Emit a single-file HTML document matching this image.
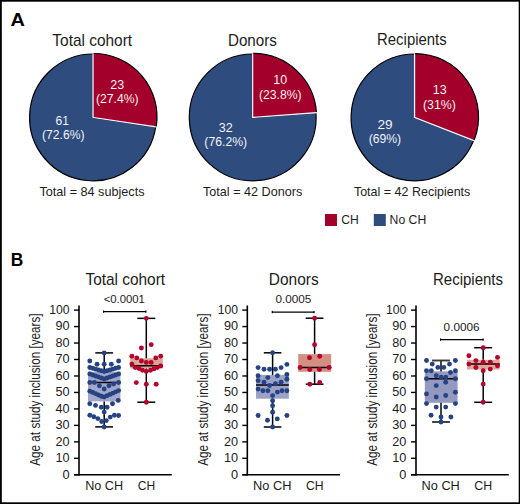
<!DOCTYPE html>
<html><head><meta charset="utf-8"><style>
html,body{margin:0;padding:0;background:#fff;}
svg{display:block;}
text{font-family:"Liberation Sans",sans-serif;}
</style></head><body>
<svg width="520" height="504" viewBox="0 0 520 504">
<rect x="0" y="0" width="520" height="504" fill="#fff"/>
<path d="M93,117.4 L155.69,126.85 A63.4,63.4 0 1 1 93,54.00000000000001 Z" fill="#2E4C7E"/>
<path d="M155.69,126.85 A63.4,63.4 0 1 1 93,54.00000000000001" fill="none" stroke="#000" stroke-width="1.2"/>
<path d="M93,53.400000000000006 L93,117.4 L156.29,126.94" fill="none" stroke="#fff" stroke-width="1.1"/>
<g transform="translate(0.61,-0.52)">
<path d="M93,117.4 L93,54.00000000000001 A63.4,63.4 0 0 1 155.69,126.85 Z" fill="#A3002B"/>
<path d="M93,54.00000000000001 A63.4,63.4 0 0 1 155.69,126.85" fill="none" stroke="#000" stroke-width="1.2"/>
</g>
<path d="M252.7,117.4 L315.92,112.66 A63.4,63.4 0 1 1 252.7,54.00000000000001 Z" fill="#2E4C7E"/>
<path d="M315.92,112.66 A63.4,63.4 0 1 1 252.7,54.00000000000001" fill="none" stroke="#000" stroke-width="1.2"/>
<path d="M252.7,53.400000000000006 L252.7,117.4 L316.52,112.62" fill="none" stroke="#fff" stroke-width="1.1"/>
<g transform="translate(0.54,-0.59)">
<path d="M252.7,117.4 L252.7,54.00000000000001 A63.4,63.4 0 0 1 315.92,112.66 Z" fill="#A3002B"/>
<path d="M252.7,54.00000000000001 A63.4,63.4 0 0 1 315.92,112.66" fill="none" stroke="#000" stroke-width="1.2"/>
</g>
<path d="M414.5,117.4 L473.52,140.56 A63.4,63.4 0 1 1 414.5,54.00000000000001 Z" fill="#2E4C7E"/>
<path d="M473.52,140.56 A63.4,63.4 0 1 1 414.5,54.00000000000001" fill="none" stroke="#000" stroke-width="1.2"/>
<path d="M414.5,53.400000000000006 L414.5,117.4 L474.08,140.78" fill="none" stroke="#fff" stroke-width="1.1"/>
<g transform="translate(0.66,-0.45)">
<path d="M414.5,117.4 L414.5,54.00000000000001 A63.4,63.4 0 0 1 473.52,140.56 Z" fill="#A3002B"/>
<path d="M414.5,54.00000000000001 A63.4,63.4 0 0 1 473.52,140.56" fill="none" stroke="#000" stroke-width="1.2"/>
</g>
<text x="10.50" y="26.00" font-size="19" font-weight="bold" fill="#000" textLength="14.42" lengthAdjust="spacingAndGlyphs">A</text>
<text x="10.74" y="265.80" font-size="19" font-weight="bold" fill="#000" textLength="12.55" lengthAdjust="spacingAndGlyphs">B</text>
<text x="52.36" y="46.20" font-size="15.7" font-weight="normal" fill="#1c1c1c" textLength="79.75" lengthAdjust="spacingAndGlyphs">Total cohort</text>
<text x="227.96" y="45.90" font-size="15.7" font-weight="normal" fill="#1c1c1c" textLength="48.89" lengthAdjust="spacingAndGlyphs">Donors</text>
<text x="377.08" y="45.40" font-size="15.7" font-weight="normal" fill="#1c1c1c" textLength="69.56" lengthAdjust="spacingAndGlyphs">Recipients</text>
<text x="110.27" y="89.10" font-size="12.3" font-weight="normal" fill="#fff" textLength="13.88" lengthAdjust="spacingAndGlyphs" stroke="#A3002B" stroke-width="0.08">23</text>
<text x="95.95" y="103.40" font-size="12.3" font-weight="normal" fill="#fff" textLength="42.61" lengthAdjust="spacingAndGlyphs" stroke="#A3002B" stroke-width="0.08">(27.4%)</text>
<text x="55.59" y="125.20" font-size="12.3" font-weight="normal" fill="#fff" textLength="13.40" lengthAdjust="spacingAndGlyphs" stroke="#2E4C7E" stroke-width="0.08">61</text>
<text x="42.05" y="139.30" font-size="12.3" font-weight="normal" fill="#fff" textLength="42.51" lengthAdjust="spacingAndGlyphs" stroke="#2E4C7E" stroke-width="0.08">(72.6%)</text>
<text x="273.25" y="83.90" font-size="12.3" font-weight="normal" fill="#fff" textLength="13.83" lengthAdjust="spacingAndGlyphs" stroke="#A3002B" stroke-width="0.08">10</text>
<text x="258.94" y="98.70" font-size="12.3" font-weight="normal" fill="#fff" textLength="42.71" lengthAdjust="spacingAndGlyphs" stroke="#A3002B" stroke-width="0.08">(23.8%)</text>
<text x="218.72" y="131.50" font-size="12.3" font-weight="normal" fill="#fff" textLength="13.90" lengthAdjust="spacingAndGlyphs" stroke="#2E4C7E" stroke-width="0.08">32</text>
<text x="204.34" y="146.00" font-size="12.3" font-weight="normal" fill="#fff" textLength="42.82" lengthAdjust="spacingAndGlyphs" stroke="#2E4C7E" stroke-width="0.08">(76.2%)</text>
<text x="432.85" y="94.20" font-size="12.3" font-weight="normal" fill="#fff" textLength="13.90" lengthAdjust="spacingAndGlyphs" stroke="#A3002B" stroke-width="0.08">13</text>
<text x="422.93" y="108.60" font-size="12.3" font-weight="normal" fill="#fff" textLength="32.93" lengthAdjust="spacingAndGlyphs" stroke="#A3002B" stroke-width="0.08">(31%)</text>
<text x="377.52" y="128.80" font-size="12.3" font-weight="normal" fill="#fff" textLength="15.13" lengthAdjust="spacingAndGlyphs" stroke="#2E4C7E" stroke-width="0.08">29</text>
<text x="368.64" y="143.00" font-size="12.3" font-weight="normal" fill="#fff" textLength="32.51" lengthAdjust="spacingAndGlyphs" stroke="#2E4C7E" stroke-width="0.08">(69%)</text>
<text x="39.42" y="196.10" font-size="12.8" font-weight="normal" fill="#1c1c1c" textLength="105.13" lengthAdjust="spacingAndGlyphs">Total = 84 subjects</text>
<text x="203.02" y="196.10" font-size="12.8" font-weight="normal" fill="#1c1c1c" textLength="99.23" lengthAdjust="spacingAndGlyphs">Total = 42 Donors</text>
<text x="353.92" y="196.10" font-size="12.8" font-weight="normal" fill="#1c1c1c" textLength="116.42" lengthAdjust="spacingAndGlyphs">Total = 42 Recipients</text>
<rect x="325" y="214" width="12" height="12" fill="#A3002B"/>
<text x="341.28" y="223.80" font-size="12.6" font-weight="normal" fill="#1c1c1c" textLength="17.50" lengthAdjust="spacingAndGlyphs">CH</text>
<rect x="373.8" y="214" width="12" height="12" fill="#2E4C7E"/>
<text x="389.60" y="223.80" font-size="12.6" font-weight="normal" fill="#1c1c1c" textLength="36.60" lengthAdjust="spacingAndGlyphs">No CH</text>
<line x1="79" y1="305.5" x2="79" y2="475.6" stroke="#000" stroke-width="1.6"/>
<line x1="74" y1="474.8" x2="171.8" y2="474.8" stroke="#000" stroke-width="1.6"/>
<line x1="74" y1="474.80" x2="79" y2="474.80" stroke="#000" stroke-width="1.4"/>
<text x="62.48" y="478.50" font-size="12.6" font-weight="normal" fill="#1c1c1c" textLength="7.12" lengthAdjust="spacingAndGlyphs">0</text>
<line x1="74" y1="458.33" x2="79" y2="458.33" stroke="#000" stroke-width="1.4"/>
<text x="55.47" y="462.03" font-size="12.6" font-weight="normal" fill="#1c1c1c" textLength="14.13" lengthAdjust="spacingAndGlyphs">10</text>
<line x1="74" y1="441.86" x2="79" y2="441.86" stroke="#000" stroke-width="1.4"/>
<text x="55.47" y="445.56" font-size="12.6" font-weight="normal" fill="#1c1c1c" textLength="14.12" lengthAdjust="spacingAndGlyphs">20</text>
<line x1="74" y1="425.39" x2="79" y2="425.39" stroke="#000" stroke-width="1.4"/>
<text x="55.47" y="429.09" font-size="12.6" font-weight="normal" fill="#1c1c1c" textLength="14.12" lengthAdjust="spacingAndGlyphs">30</text>
<line x1="74" y1="408.92" x2="79" y2="408.92" stroke="#000" stroke-width="1.4"/>
<text x="55.47" y="412.62" font-size="12.6" font-weight="normal" fill="#1c1c1c" textLength="14.12" lengthAdjust="spacingAndGlyphs">40</text>
<line x1="74" y1="392.45" x2="79" y2="392.45" stroke="#000" stroke-width="1.4"/>
<text x="55.47" y="396.15" font-size="12.6" font-weight="normal" fill="#1c1c1c" textLength="14.12" lengthAdjust="spacingAndGlyphs">50</text>
<line x1="74" y1="375.98" x2="79" y2="375.98" stroke="#000" stroke-width="1.4"/>
<text x="55.47" y="379.68" font-size="12.6" font-weight="normal" fill="#1c1c1c" textLength="14.12" lengthAdjust="spacingAndGlyphs">60</text>
<line x1="74" y1="359.51" x2="79" y2="359.51" stroke="#000" stroke-width="1.4"/>
<text x="55.47" y="363.21" font-size="12.6" font-weight="normal" fill="#1c1c1c" textLength="14.12" lengthAdjust="spacingAndGlyphs">70</text>
<line x1="74" y1="343.04" x2="79" y2="343.04" stroke="#000" stroke-width="1.4"/>
<text x="55.47" y="346.74" font-size="12.6" font-weight="normal" fill="#1c1c1c" textLength="14.12" lengthAdjust="spacingAndGlyphs">80</text>
<line x1="74" y1="326.57" x2="79" y2="326.57" stroke="#000" stroke-width="1.4"/>
<text x="55.47" y="330.27" font-size="12.6" font-weight="normal" fill="#1c1c1c" textLength="14.12" lengthAdjust="spacingAndGlyphs">90</text>
<line x1="74" y1="310.10" x2="79" y2="310.10" stroke="#000" stroke-width="1.4"/>
<text x="49.29" y="313.80" font-size="12.6" font-weight="normal" fill="#1c1c1c" textLength="20.29" lengthAdjust="spacingAndGlyphs">100</text>
<text transform="translate(40.30,465.70) rotate(-90)" x="-0.02" y="0" font-size="15.2" fill="#1c1c1c" textLength="152.26" lengthAdjust="spacingAndGlyphs">Age at study inclusion [years]</text>
<rect x="88.0" y="371.7" width="32.400000000000006" height="29.69999999999999" fill="#A3A7CB"/>
<line x1="104.2" y1="352.9" x2="104.2" y2="371.7" stroke="#000" stroke-width="1.5"/>
<line x1="104.2" y1="401.4" x2="104.2" y2="426.9" stroke="#000" stroke-width="1.5"/>
<line x1="95.3" y1="352.9" x2="113.10000000000001" y2="352.9" stroke="#000" stroke-width="1.5"/>
<line x1="95.3" y1="426.9" x2="113.10000000000001" y2="426.9" stroke="#000" stroke-width="1.5"/>
<line x1="88.0" y1="382.5" x2="120.4" y2="382.5" stroke="#000" stroke-width="1.5"/>
<circle cx="104.20" cy="352.90" r="2.45" fill="#254383"/>
<circle cx="89.80" cy="361.00" r="2.45" fill="#254383"/>
<circle cx="118.60" cy="361.00" r="2.45" fill="#254383"/>
<circle cx="97.10" cy="364.20" r="2.45" fill="#254383"/>
<circle cx="104.20" cy="364.20" r="2.45" fill="#254383"/>
<circle cx="111.30" cy="364.20" r="2.45" fill="#254383"/>
<circle cx="89.80" cy="367.50" r="2.45" fill="#254383"/>
<circle cx="92.68" cy="368.32" r="2.45" fill="#254383"/>
<circle cx="95.56" cy="369.14" r="2.45" fill="#254383"/>
<circle cx="98.44" cy="369.96" r="2.45" fill="#254383"/>
<circle cx="101.32" cy="370.78" r="2.45" fill="#254383"/>
<circle cx="104.20" cy="371.60" r="2.45" fill="#254383"/>
<circle cx="107.08" cy="370.78" r="2.45" fill="#254383"/>
<circle cx="109.96" cy="369.96" r="2.45" fill="#254383"/>
<circle cx="112.84" cy="369.14" r="2.45" fill="#254383"/>
<circle cx="115.72" cy="368.32" r="2.45" fill="#254383"/>
<circle cx="118.60" cy="367.50" r="2.45" fill="#254383"/>
<circle cx="89.80" cy="374.00" r="2.45" fill="#254383"/>
<circle cx="92.68" cy="375.00" r="2.45" fill="#254383"/>
<circle cx="95.56" cy="376.00" r="2.45" fill="#254383"/>
<circle cx="98.44" cy="377.00" r="2.45" fill="#254383"/>
<circle cx="101.32" cy="378.00" r="2.45" fill="#254383"/>
<circle cx="104.20" cy="379.00" r="2.45" fill="#254383"/>
<circle cx="107.08" cy="378.00" r="2.45" fill="#254383"/>
<circle cx="109.96" cy="377.00" r="2.45" fill="#254383"/>
<circle cx="112.84" cy="376.00" r="2.45" fill="#254383"/>
<circle cx="115.72" cy="375.00" r="2.45" fill="#254383"/>
<circle cx="118.60" cy="374.00" r="2.45" fill="#254383"/>
<circle cx="89.80" cy="382.50" r="2.45" fill="#254383"/>
<circle cx="94.40" cy="382.50" r="2.45" fill="#254383"/>
<circle cx="118.60" cy="382.50" r="2.45" fill="#254383"/>
<circle cx="113.60" cy="384.00" r="2.45" fill="#254383"/>
<circle cx="99.40" cy="385.80" r="2.45" fill="#254383"/>
<circle cx="109.00" cy="385.80" r="2.45" fill="#254383"/>
<circle cx="104.20" cy="389.00" r="2.45" fill="#254383"/>
<circle cx="89.80" cy="391.13" r="2.45" fill="#254383"/>
<circle cx="92.68" cy="392.40" r="2.45" fill="#254383"/>
<circle cx="95.56" cy="393.66" r="2.45" fill="#254383"/>
<circle cx="98.44" cy="394.93" r="2.45" fill="#254383"/>
<circle cx="101.32" cy="396.20" r="2.45" fill="#254383"/>
<circle cx="104.20" cy="396.94" r="2.45" fill="#254383"/>
<circle cx="107.08" cy="395.67" r="2.45" fill="#254383"/>
<circle cx="109.96" cy="394.40" r="2.45" fill="#254383"/>
<circle cx="112.84" cy="393.13" r="2.45" fill="#254383"/>
<circle cx="115.72" cy="391.87" r="2.45" fill="#254383"/>
<circle cx="118.60" cy="390.60" r="2.45" fill="#254383"/>
<circle cx="118.20" cy="400.40" r="2.45" fill="#254383"/>
<circle cx="89.80" cy="403.80" r="2.45" fill="#254383"/>
<circle cx="112.50" cy="403.80" r="2.45" fill="#254383"/>
<circle cx="95.50" cy="405.40" r="2.45" fill="#254383"/>
<circle cx="101.30" cy="407.30" r="2.45" fill="#254383"/>
<circle cx="107.10" cy="407.30" r="2.45" fill="#254383"/>
<circle cx="104.20" cy="412.10" r="2.45" fill="#254383"/>
<circle cx="89.80" cy="415.30" r="2.45" fill="#254383"/>
<circle cx="93.80" cy="416.80" r="2.45" fill="#254383"/>
<circle cx="97.80" cy="418.60" r="2.45" fill="#254383"/>
<circle cx="101.70" cy="421.50" r="2.45" fill="#254383"/>
<circle cx="106.30" cy="420.60" r="2.45" fill="#254383"/>
<circle cx="110.20" cy="417.10" r="2.45" fill="#254383"/>
<circle cx="114.40" cy="415.20" r="2.45" fill="#254383"/>
<circle cx="118.60" cy="415.50" r="2.45" fill="#254383"/>
<circle cx="104.20" cy="427.00" r="2.45" fill="#254383"/>
<rect x="130.2" y="358.3" width="32.60000000000002" height="10.199999999999989" fill="#DBA596"/>
<line x1="146.3" y1="318.35" x2="146.3" y2="358.3" stroke="#000" stroke-width="1.5"/>
<line x1="146.3" y1="368.5" x2="146.3" y2="402.2" stroke="#000" stroke-width="1.5"/>
<line x1="137.3" y1="318.35" x2="155.3" y2="318.35" stroke="#000" stroke-width="1.5"/>
<line x1="137.3" y1="402.2" x2="155.3" y2="402.2" stroke="#000" stroke-width="1.5"/>
<line x1="130.2" y1="365.8" x2="162.8" y2="365.8" stroke="#000" stroke-width="1.5"/>
<circle cx="146.30" cy="318.35" r="2.45" fill="#B5002C"/>
<circle cx="151.20" cy="344.65" r="2.45" fill="#B5002C"/>
<circle cx="141.40" cy="348.00" r="2.45" fill="#B5002C"/>
<circle cx="131.90" cy="356.20" r="2.45" fill="#B5002C"/>
<circle cx="160.70" cy="356.20" r="2.45" fill="#B5002C"/>
<circle cx="136.80" cy="357.90" r="2.45" fill="#B5002C"/>
<circle cx="155.80" cy="357.90" r="2.45" fill="#B5002C"/>
<circle cx="141.40" cy="361.00" r="2.45" fill="#B5002C"/>
<circle cx="146.30" cy="362.40" r="2.45" fill="#B5002C"/>
<circle cx="151.20" cy="362.40" r="2.45" fill="#B5002C"/>
<circle cx="131.90" cy="364.10" r="2.45" fill="#B5002C"/>
<circle cx="160.70" cy="365.90" r="2.45" fill="#B5002C"/>
<circle cx="135.30" cy="367.60" r="2.45" fill="#B5002C"/>
<circle cx="139.10" cy="368.50" r="2.45" fill="#B5002C"/>
<circle cx="142.50" cy="370.20" r="2.45" fill="#B5002C"/>
<circle cx="146.30" cy="371.40" r="2.45" fill="#B5002C"/>
<circle cx="150.50" cy="370.20" r="2.45" fill="#B5002C"/>
<circle cx="153.90" cy="368.90" r="2.45" fill="#B5002C"/>
<circle cx="157.30" cy="367.60" r="2.45" fill="#B5002C"/>
<circle cx="136.30" cy="382.60" r="2.45" fill="#B5002C"/>
<circle cx="146.30" cy="384.30" r="2.45" fill="#B5002C"/>
<circle cx="156.20" cy="384.30" r="2.45" fill="#B5002C"/>
<circle cx="146.30" cy="402.20" r="2.45" fill="#B5002C"/>
<line x1="103.1" y1="311.6" x2="146.3" y2="311.6" stroke="#000" stroke-width="1.4"/>
<line x1="103.6" y1="310.40000000000003" x2="103.6" y2="312.8" stroke="#000" stroke-width="1"/>
<line x1="145.8" y1="310.40000000000003" x2="145.8" y2="312.8" stroke="#000" stroke-width="1"/>
<text x="85.46" y="284.90" font-size="15.7" font-weight="normal" fill="#1c1c1c" textLength="79.65" lengthAdjust="spacingAndGlyphs">Total cohort</text>
<text x="103.64" y="302.80" font-size="11.4" font-weight="normal" fill="#1c1c1c" textLength="41.31" lengthAdjust="spacingAndGlyphs">&lt;0.0001</text>
<text x="85.16" y="490.00" font-size="12.2" font-weight="normal" fill="#1c1c1c" textLength="37.86" lengthAdjust="spacingAndGlyphs">No CH</text>
<text x="137.69" y="490.00" font-size="12.2" font-weight="normal" fill="#1c1c1c" textLength="17.39" lengthAdjust="spacingAndGlyphs">CH</text>
<line x1="247.3" y1="305.5" x2="247.3" y2="475.6" stroke="#000" stroke-width="1.6"/>
<line x1="242.3" y1="474.8" x2="340.1" y2="474.8" stroke="#000" stroke-width="1.6"/>
<line x1="242.3" y1="474.80" x2="247.3" y2="474.80" stroke="#000" stroke-width="1.4"/>
<text x="230.98" y="478.50" font-size="12.6" font-weight="normal" fill="#1c1c1c" textLength="7.12" lengthAdjust="spacingAndGlyphs">0</text>
<line x1="242.3" y1="458.33" x2="247.3" y2="458.33" stroke="#000" stroke-width="1.4"/>
<text x="223.97" y="462.03" font-size="12.6" font-weight="normal" fill="#1c1c1c" textLength="14.13" lengthAdjust="spacingAndGlyphs">10</text>
<line x1="242.3" y1="441.86" x2="247.3" y2="441.86" stroke="#000" stroke-width="1.4"/>
<text x="223.97" y="445.56" font-size="12.6" font-weight="normal" fill="#1c1c1c" textLength="14.12" lengthAdjust="spacingAndGlyphs">20</text>
<line x1="242.3" y1="425.39" x2="247.3" y2="425.39" stroke="#000" stroke-width="1.4"/>
<text x="223.97" y="429.09" font-size="12.6" font-weight="normal" fill="#1c1c1c" textLength="14.12" lengthAdjust="spacingAndGlyphs">30</text>
<line x1="242.3" y1="408.92" x2="247.3" y2="408.92" stroke="#000" stroke-width="1.4"/>
<text x="223.97" y="412.62" font-size="12.6" font-weight="normal" fill="#1c1c1c" textLength="14.12" lengthAdjust="spacingAndGlyphs">40</text>
<line x1="242.3" y1="392.45" x2="247.3" y2="392.45" stroke="#000" stroke-width="1.4"/>
<text x="223.97" y="396.15" font-size="12.6" font-weight="normal" fill="#1c1c1c" textLength="14.12" lengthAdjust="spacingAndGlyphs">50</text>
<line x1="242.3" y1="375.98" x2="247.3" y2="375.98" stroke="#000" stroke-width="1.4"/>
<text x="223.97" y="379.68" font-size="12.6" font-weight="normal" fill="#1c1c1c" textLength="14.12" lengthAdjust="spacingAndGlyphs">60</text>
<line x1="242.3" y1="359.51" x2="247.3" y2="359.51" stroke="#000" stroke-width="1.4"/>
<text x="223.97" y="363.21" font-size="12.6" font-weight="normal" fill="#1c1c1c" textLength="14.12" lengthAdjust="spacingAndGlyphs">70</text>
<line x1="242.3" y1="343.04" x2="247.3" y2="343.04" stroke="#000" stroke-width="1.4"/>
<text x="223.97" y="346.74" font-size="12.6" font-weight="normal" fill="#1c1c1c" textLength="14.12" lengthAdjust="spacingAndGlyphs">80</text>
<line x1="242.3" y1="326.57" x2="247.3" y2="326.57" stroke="#000" stroke-width="1.4"/>
<text x="223.97" y="330.27" font-size="12.6" font-weight="normal" fill="#1c1c1c" textLength="14.12" lengthAdjust="spacingAndGlyphs">90</text>
<line x1="242.3" y1="310.10" x2="247.3" y2="310.10" stroke="#000" stroke-width="1.4"/>
<text x="217.79" y="313.80" font-size="12.6" font-weight="normal" fill="#1c1c1c" textLength="20.29" lengthAdjust="spacingAndGlyphs">100</text>
<text transform="translate(208.10,465.70) rotate(-90)" x="-0.02" y="0" font-size="15.2" fill="#1c1c1c" textLength="152.26" lengthAdjust="spacingAndGlyphs">Age at study inclusion [years]</text>
<rect x="256" y="374.9" width="32.80000000000001" height="23.80000000000001" fill="#9CA1C8"/>
<line x1="272.6" y1="352.8" x2="272.6" y2="374.9" stroke="#000" stroke-width="1.5"/>
<line x1="272.6" y1="398.7" x2="272.6" y2="427" stroke="#000" stroke-width="1.5"/>
<line x1="263.8" y1="352.8" x2="281.40000000000003" y2="352.8" stroke="#000" stroke-width="1.5"/>
<line x1="263.8" y1="427" x2="281.40000000000003" y2="427" stroke="#000" stroke-width="1.5"/>
<line x1="256" y1="385.1" x2="288.8" y2="385.1" stroke="#000" stroke-width="1.5"/>
<circle cx="272.60" cy="352.80" r="2.45" fill="#254383"/>
<circle cx="286.90" cy="364.40" r="2.45" fill="#254383"/>
<circle cx="258.10" cy="367.60" r="2.45" fill="#254383"/>
<circle cx="264.00" cy="369.20" r="2.45" fill="#254383"/>
<circle cx="269.60" cy="369.20" r="2.45" fill="#254383"/>
<circle cx="275.40" cy="369.20" r="2.45" fill="#254383"/>
<circle cx="281.10" cy="367.60" r="2.45" fill="#254383"/>
<circle cx="258.10" cy="375.80" r="2.45" fill="#254383"/>
<circle cx="267.80" cy="377.60" r="2.45" fill="#254383"/>
<circle cx="277.40" cy="375.80" r="2.45" fill="#254383"/>
<circle cx="286.90" cy="374.50" r="2.45" fill="#254383"/>
<circle cx="286.90" cy="379.20" r="2.45" fill="#254383"/>
<circle cx="258.10" cy="380.60" r="2.45" fill="#254383"/>
<circle cx="264.00" cy="382.30" r="2.45" fill="#254383"/>
<circle cx="281.10" cy="382.30" r="2.45" fill="#254383"/>
<circle cx="275.40" cy="383.80" r="2.45" fill="#254383"/>
<circle cx="269.60" cy="385.50" r="2.45" fill="#254383"/>
<circle cx="258.10" cy="389.10" r="2.45" fill="#254383"/>
<circle cx="262.90" cy="390.80" r="2.45" fill="#254383"/>
<circle cx="267.80" cy="390.80" r="2.45" fill="#254383"/>
<circle cx="277.40" cy="392.10" r="2.45" fill="#254383"/>
<circle cx="282.00" cy="390.80" r="2.45" fill="#254383"/>
<circle cx="286.90" cy="390.80" r="2.45" fill="#254383"/>
<circle cx="272.60" cy="395.60" r="2.45" fill="#254383"/>
<circle cx="272.60" cy="400.70" r="2.45" fill="#254383"/>
<circle cx="272.60" cy="405.70" r="2.45" fill="#254383"/>
<circle cx="272.60" cy="412.30" r="2.45" fill="#254383"/>
<circle cx="258.10" cy="415.50" r="2.45" fill="#254383"/>
<circle cx="286.90" cy="415.50" r="2.45" fill="#254383"/>
<circle cx="267.50" cy="420.30" r="2.45" fill="#254383"/>
<circle cx="277.30" cy="418.90" r="2.45" fill="#254383"/>
<circle cx="272.60" cy="427.00" r="2.45" fill="#254383"/>
<rect x="298.2" y="354.1" width="33.0" height="17.69999999999999" fill="#D28F82"/>
<line x1="314.6" y1="318.2" x2="314.6" y2="354.1" stroke="#000" stroke-width="1.5"/>
<line x1="314.6" y1="371.8" x2="314.6" y2="384.2" stroke="#000" stroke-width="1.5"/>
<line x1="305.70000000000005" y1="318.2" x2="323.5" y2="318.2" stroke="#000" stroke-width="1.5"/>
<line x1="305.70000000000005" y1="384.2" x2="323.5" y2="384.2" stroke="#000" stroke-width="1.5"/>
<line x1="298.2" y1="367.6" x2="331.2" y2="367.6" stroke="#000" stroke-width="1.5"/>
<circle cx="314.60" cy="318.20" r="2.45" fill="#B5002C"/>
<circle cx="314.60" cy="344.70" r="2.45" fill="#B5002C"/>
<circle cx="309.50" cy="357.80" r="2.45" fill="#B5002C"/>
<circle cx="319.70" cy="356.20" r="2.45" fill="#B5002C"/>
<circle cx="300.10" cy="367.50" r="2.45" fill="#B5002C"/>
<circle cx="309.80" cy="369.50" r="2.45" fill="#B5002C"/>
<circle cx="319.40" cy="369.50" r="2.45" fill="#B5002C"/>
<circle cx="329.10" cy="367.50" r="2.45" fill="#B5002C"/>
<circle cx="309.80" cy="384.20" r="2.45" fill="#B5002C"/>
<circle cx="319.70" cy="382.40" r="2.45" fill="#B5002C"/>
<line x1="271.8" y1="312.1" x2="314.5" y2="312.1" stroke="#000" stroke-width="1.4"/>
<line x1="272.3" y1="310.90000000000003" x2="272.3" y2="313.3" stroke="#000" stroke-width="1"/>
<line x1="314.0" y1="310.90000000000003" x2="314.0" y2="313.3" stroke="#000" stroke-width="1"/>
<text x="268.83" y="284.90" font-size="15.7" font-weight="normal" fill="#1c1c1c" textLength="49.83" lengthAdjust="spacingAndGlyphs">Donors</text>
<text x="275.44" y="303.40" font-size="11.4" font-weight="normal" fill="#1c1c1c" textLength="35.95" lengthAdjust="spacingAndGlyphs">0.0005</text>
<text x="253.00" y="490.00" font-size="12.2" font-weight="normal" fill="#1c1c1c" textLength="38.45" lengthAdjust="spacingAndGlyphs">No CH</text>
<text x="305.98" y="490.00" font-size="12.2" font-weight="normal" fill="#1c1c1c" textLength="17.61" lengthAdjust="spacingAndGlyphs">CH</text>
<line x1="416" y1="305.5" x2="416" y2="475.6" stroke="#000" stroke-width="1.6"/>
<line x1="411" y1="474.8" x2="508.8" y2="474.8" stroke="#000" stroke-width="1.6"/>
<line x1="411" y1="474.80" x2="416" y2="474.80" stroke="#000" stroke-width="1.4"/>
<text x="399.28" y="478.50" font-size="12.6" font-weight="normal" fill="#1c1c1c" textLength="7.12" lengthAdjust="spacingAndGlyphs">0</text>
<line x1="411" y1="458.33" x2="416" y2="458.33" stroke="#000" stroke-width="1.4"/>
<text x="392.27" y="462.03" font-size="12.6" font-weight="normal" fill="#1c1c1c" textLength="14.13" lengthAdjust="spacingAndGlyphs">10</text>
<line x1="411" y1="441.86" x2="416" y2="441.86" stroke="#000" stroke-width="1.4"/>
<text x="392.27" y="445.56" font-size="12.6" font-weight="normal" fill="#1c1c1c" textLength="14.12" lengthAdjust="spacingAndGlyphs">20</text>
<line x1="411" y1="425.39" x2="416" y2="425.39" stroke="#000" stroke-width="1.4"/>
<text x="392.27" y="429.09" font-size="12.6" font-weight="normal" fill="#1c1c1c" textLength="14.12" lengthAdjust="spacingAndGlyphs">30</text>
<line x1="411" y1="408.92" x2="416" y2="408.92" stroke="#000" stroke-width="1.4"/>
<text x="392.27" y="412.62" font-size="12.6" font-weight="normal" fill="#1c1c1c" textLength="14.12" lengthAdjust="spacingAndGlyphs">40</text>
<line x1="411" y1="392.45" x2="416" y2="392.45" stroke="#000" stroke-width="1.4"/>
<text x="392.27" y="396.15" font-size="12.6" font-weight="normal" fill="#1c1c1c" textLength="14.12" lengthAdjust="spacingAndGlyphs">50</text>
<line x1="411" y1="375.98" x2="416" y2="375.98" stroke="#000" stroke-width="1.4"/>
<text x="392.27" y="379.68" font-size="12.6" font-weight="normal" fill="#1c1c1c" textLength="14.12" lengthAdjust="spacingAndGlyphs">60</text>
<line x1="411" y1="359.51" x2="416" y2="359.51" stroke="#000" stroke-width="1.4"/>
<text x="392.27" y="363.21" font-size="12.6" font-weight="normal" fill="#1c1c1c" textLength="14.12" lengthAdjust="spacingAndGlyphs">70</text>
<line x1="411" y1="343.04" x2="416" y2="343.04" stroke="#000" stroke-width="1.4"/>
<text x="392.27" y="346.74" font-size="12.6" font-weight="normal" fill="#1c1c1c" textLength="14.12" lengthAdjust="spacingAndGlyphs">80</text>
<line x1="411" y1="326.57" x2="416" y2="326.57" stroke="#000" stroke-width="1.4"/>
<text x="392.27" y="330.27" font-size="12.6" font-weight="normal" fill="#1c1c1c" textLength="14.12" lengthAdjust="spacingAndGlyphs">90</text>
<line x1="411" y1="310.10" x2="416" y2="310.10" stroke="#000" stroke-width="1.4"/>
<text x="386.09" y="313.80" font-size="12.6" font-weight="normal" fill="#1c1c1c" textLength="20.29" lengthAdjust="spacingAndGlyphs">100</text>
<text transform="translate(376.90,465.70) rotate(-90)" x="-0.02" y="0" font-size="15.2" fill="#1c1c1c" textLength="152.26" lengthAdjust="spacingAndGlyphs">Age at study inclusion [years]</text>
<rect x="424.8" y="371.4" width="32.80000000000001" height="31.400000000000034" fill="#9499C0"/>
<line x1="441.0" y1="360.5" x2="441.0" y2="371.4" stroke="#3a3a3a" stroke-width="1.9"/>
<line x1="441.0" y1="402.8" x2="441.0" y2="422" stroke="#3a3a3a" stroke-width="1.9"/>
<line x1="432.05" y1="360.5" x2="449.95" y2="360.5" stroke="#3a3a3a" stroke-width="1.9"/>
<line x1="432.05" y1="422" x2="449.95" y2="422" stroke="#3a3a3a" stroke-width="1.9"/>
<line x1="424.8" y1="378.7" x2="457.6" y2="378.7" stroke="#000" stroke-width="1.5"/>
<circle cx="426.50" cy="360.50" r="2.45" fill="#254383"/>
<circle cx="455.40" cy="360.50" r="2.45" fill="#254383"/>
<circle cx="432.30" cy="364.10" r="2.45" fill="#254383"/>
<circle cx="449.50" cy="364.10" r="2.45" fill="#254383"/>
<circle cx="437.90" cy="367.40" r="2.45" fill="#254383"/>
<circle cx="443.80" cy="367.40" r="2.45" fill="#254383"/>
<circle cx="426.50" cy="370.80" r="2.45" fill="#254383"/>
<circle cx="431.30" cy="370.80" r="2.45" fill="#254383"/>
<circle cx="455.40" cy="370.80" r="2.45" fill="#254383"/>
<circle cx="450.50" cy="372.50" r="2.45" fill="#254383"/>
<circle cx="436.20" cy="375.70" r="2.45" fill="#254383"/>
<circle cx="441.20" cy="377.30" r="2.45" fill="#254383"/>
<circle cx="445.80" cy="377.10" r="2.45" fill="#254383"/>
<circle cx="426.50" cy="378.70" r="2.45" fill="#254383"/>
<circle cx="455.40" cy="378.70" r="2.45" fill="#254383"/>
<circle cx="445.70" cy="382.30" r="2.45" fill="#254383"/>
<circle cx="436.20" cy="385.60" r="2.45" fill="#254383"/>
<circle cx="426.50" cy="393.90" r="2.45" fill="#254383"/>
<circle cx="455.40" cy="392.30" r="2.45" fill="#254383"/>
<circle cx="436.20" cy="397.00" r="2.45" fill="#254383"/>
<circle cx="445.70" cy="395.50" r="2.45" fill="#254383"/>
<circle cx="426.50" cy="403.60" r="2.45" fill="#254383"/>
<circle cx="455.40" cy="403.60" r="2.45" fill="#254383"/>
<circle cx="436.20" cy="407.10" r="2.45" fill="#254383"/>
<circle cx="445.70" cy="407.10" r="2.45" fill="#254383"/>
<circle cx="431.10" cy="415.30" r="2.45" fill="#254383"/>
<circle cx="441.00" cy="417.00" r="2.45" fill="#254383"/>
<circle cx="450.90" cy="417.00" r="2.45" fill="#254383"/>
<circle cx="441.00" cy="422.00" r="2.45" fill="#254383"/>
<rect x="467" y="359.8" width="32.80000000000001" height="9.699999999999989" fill="#E0A898"/>
<line x1="483.2" y1="347.7" x2="483.2" y2="359.8" stroke="#000" stroke-width="1.5"/>
<line x1="483.2" y1="369.5" x2="483.2" y2="402.3" stroke="#000" stroke-width="1.5"/>
<line x1="474.25" y1="347.7" x2="492.15" y2="347.7" stroke="#000" stroke-width="1.5"/>
<line x1="474.25" y1="402.3" x2="492.15" y2="402.3" stroke="#000" stroke-width="1.5"/>
<line x1="467" y1="364.1" x2="499.8" y2="364.1" stroke="#000" stroke-width="1.5"/>
<circle cx="483.20" cy="347.70" r="2.45" fill="#B5002C"/>
<circle cx="468.90" cy="355.80" r="2.45" fill="#B5002C"/>
<circle cx="497.50" cy="357.40" r="2.45" fill="#B5002C"/>
<circle cx="475.90" cy="360.60" r="2.45" fill="#B5002C"/>
<circle cx="483.20" cy="362.20" r="2.45" fill="#B5002C"/>
<circle cx="490.30" cy="362.20" r="2.45" fill="#B5002C"/>
<circle cx="468.90" cy="364.10" r="2.45" fill="#B5002C"/>
<circle cx="497.50" cy="365.70" r="2.45" fill="#B5002C"/>
<circle cx="475.90" cy="367.50" r="2.45" fill="#B5002C"/>
<circle cx="490.30" cy="369.10" r="2.45" fill="#B5002C"/>
<circle cx="483.20" cy="370.70" r="2.45" fill="#B5002C"/>
<circle cx="483.20" cy="384.10" r="2.45" fill="#B5002C"/>
<circle cx="483.20" cy="402.30" r="2.45" fill="#B5002C"/>
<line x1="440.1" y1="339.6" x2="483.6" y2="339.6" stroke="#000" stroke-width="1.4"/>
<line x1="440.6" y1="338.40000000000003" x2="440.6" y2="340.8" stroke="#000" stroke-width="1"/>
<line x1="483.1" y1="338.40000000000003" x2="483.1" y2="340.8" stroke="#000" stroke-width="1"/>
<text x="432.97" y="284.90" font-size="15.7" font-weight="normal" fill="#1c1c1c" textLength="70.07" lengthAdjust="spacingAndGlyphs">Recipients</text>
<text x="443.64" y="330.90" font-size="11.4" font-weight="normal" fill="#1c1c1c" textLength="35.98" lengthAdjust="spacingAndGlyphs">0.0006</text>
<text x="421.55" y="490.00" font-size="12.2" font-weight="normal" fill="#1c1c1c" textLength="38.29" lengthAdjust="spacingAndGlyphs">No CH</text>
<text x="474.37" y="490.00" font-size="12.2" font-weight="normal" fill="#1c1c1c" textLength="17.83" lengthAdjust="spacingAndGlyphs">CH</text>
<rect x="0" y="0" width="520" height="1.7" fill="#000"/><rect x="0" y="0" width="1.8" height="504" fill="#000"/><rect x="518.7" y="0" width="1.3" height="504" fill="#000"/><rect x="0" y="502.3" width="520" height="1.7" fill="#000"/>
</svg>
</body></html>
